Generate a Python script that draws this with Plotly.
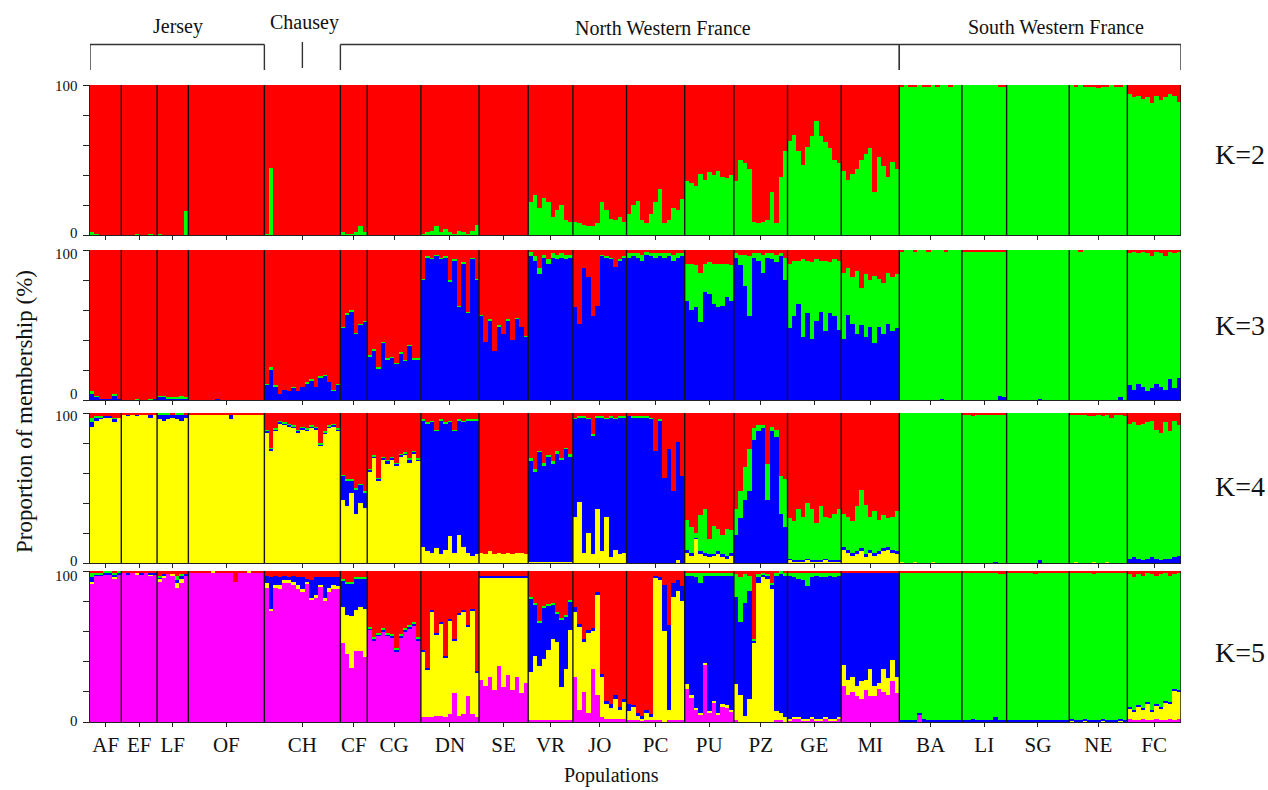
import plotly.graph_objects as go

# ---------------------------------------------------------------------------
# Populations (left to right) and number of individuals sampled in each
# ---------------------------------------------------------------------------
populations = ["AF", "EF", "LF", "OF", "CH", "CF", "CG", "DN", "SE", "VR", "JO",
               "PC", "PU", "PZ", "GE", "MI", "BA", "LI", "SG", "NE", "FC"]
pop_sizes = [7, 8, 7, 17, 17, 6, 12, 13, 11, 10, 12, 13, 11, 12, 12, 13, 14, 10, 14, 13, 12]

# Regional groups: (label, first population, last population)
regions = [("Jersey", "AF", "OF"), ("Chausey", "CH", "CH"),
           ("North Western France", "CF", "MI"), ("South Western France", "BA", "FC")]

# ---------------------------------------------------------------------------
# Individual membership proportions (%) per cluster; the red cluster is the
# remainder of each individual's 100 %.
# ---------------------------------------------------------------------------
# K = 2
k2_green = [
    2, 1, 0, 0, 0, 0, 0,                                        # AF
    0, 0, 0, 1, 0, 0, 1, 0,                                     # EF
    1, 0, 0, 0, 0, 0, 16,                                       # LF
    0, 0, 0, 0, 0, 0, 0, 0, 0, 0, 0, 0, 0, 0, 0, 0, 0,          # OF
    1, 45, 0, 0, 0, 0, 0, 0, 0, 0, 0, 0, 0, 0, 0, 0, 0,         # CH
    2, 1, 1, 2, 6, 2,                                           # CF
    0, 0, 0, 0, 0, 0, 0, 0, 0, 0, 0, 0,                         # CG
    1, 2, 3, 6, 2, 4, 2, 1, 3, 2, 1, 3, 7,                      # DN
    0, 0, 0, 0, 0, 0, 0, 0, 0, 0, 0,                            # SE
    22, 27, 18, 25, 22, 12, 17, 20, 10, 9,                      # VR
    9, 8, 7, 6, 6, 8, 22, 17, 11, 10, 12, 9,                    # JO
    14, 20, 23, 10, 8, 14, 22, 31, 8, 10, 18, 17, 24,           # PC
    36, 35, 33, 41, 37, 42, 40, 43, 39, 38, 40,                 # PU
    36, 50, 48, 44, 9, 8, 9, 10, 29, 8, 39, 56,                 # PZ
    63, 67, 56, 47, 59, 66, 76, 66, 62, 58, 50, 48,             # GE
    43, 37, 41, 44, 50, 54, 58, 29, 52, 46, 39, 49, 44,         # MI
    99, 100, 99, 99, 100, 99, 99, 100, 99, 100, 100, 99, 100, 100,  # BA
    100, 100, 100, 100, 100, 100, 100, 100, 99, 99,             # LI
    100, 100, 100, 100, 100, 100, 100, 100, 100, 100, 100, 100, 100, 100,  # SG
    100, 99, 100, 99, 99, 99, 98, 99, 99, 100, 99, 99, 100,     # NE
    94, 92, 93, 91, 92, 88, 93, 90, 92, 94, 93, 89,             # FC
]

# K = 3
k3_blue = [
    4, 2, 1, 1, 1, 3, 1,                                        # AF
    0, 0, 0, 0, 0, 0, 0, 1,                                     # EF
    2, 2, 1, 1, 1, 1, 1,                                        # LF
    0, 0, 0, 0, 0, 0, 1, 0, 0, 0, 0, 0, 0, 0, 0, 0, 0,          # OF
    10, 20, 9, 4, 7, 6, 8, 6, 9, 11, 13, 9, 15, 16, 12, 6, 10,  # CH
    48, 57, 59, 44, 50, 52,                                     # CF
    29, 33, 21, 38, 27, 28, 24, 31, 26, 36, 27, 27,             # CG
    80, 95, 94, 96, 94, 95, 79, 93, 62, 91, 58, 94, 80,         # DN
    56, 39, 53, 33, 49, 44, 53, 40, 54, 49, 42,                 # SE
    96, 93, 84, 95, 91, 95, 94, 95, 94, 95,                     # VR
    62, 51, 88, 82, 56, 63, 96, 95, 94, 89, 93, 95,             # JO
    95, 96, 95, 93, 97, 96, 95, 96, 95, 96, 93, 95, 96,         # PC
    66, 60, 62, 52, 72, 71, 64, 62, 63, 69, 66,                 # PU
    95, 90, 76, 56, 95, 93, 85, 95, 94, 92, 96, 80,             # PZ
    48, 56, 64, 42, 58, 41, 53, 59, 46, 58, 56, 47,             # GE
    41, 57, 51, 44, 50, 42, 49, 38, 49, 44, 51, 46, 48,         # MI
    0, 0, 0, 0, 0, 0, 0, 0, 0, 1, 0, 0, 0, 0,                   # BA
    0, 0, 0, 0, 0, 0, 0, 0, 3, 2,                               # LI
    0, 0, 0, 0, 0, 0, 0, 1, 0, 0, 0, 0, 0, 0,                   # SG
    0, 0, 0, 0, 0, 0, 0, 0, 0, 0, 0, 2, 0,                      # NE
    10, 7, 11, 9, 6, 8, 11, 9, 7, 14, 8, 15,                    # FC
]
k3_green = [
    2, 1, 0, 0, 0, 1, 0,                                        # AF
    0, 0, 0, 1, 0, 0, 1, 0,                                     # EF
    1, 1, 1, 1, 1, 2, 1,                                        # LF
    0, 0, 0, 0, 0, 0, 0, 0, 0, 0, 0, 0, 0, 0, 0, 0, 0,          # OF
    1, 2, 1, 0, 0, 0, 1, 0, 0, 1, 1, 0, 1, 1, 0, 1, 1,          # CH
    1, 1, 1, 1, 1, 1,                                           # CF
    1, 1, 1, 1, 1, 1, 1, 1, 1, 1, 1, 1,                         # CG
    1, 1, 1, 1, 1, 1, 1, 1, 1, 1, 1, 1, 1,                      # DN
    1, 0, 1, 0, 1, 0, 1, 0, 1, 0, 1,                            # SE
    3, 3, 4, 2, 3, 3, 3, 3, 3, 2,                               # VR
    0, 0, 0, 0, 0, 0, 1, 1, 1, 0, 1, 1,                         # JO
    3, 2, 3, 4, 2, 2, 3, 2, 3, 2, 4, 3, 2,                      # PC
    25, 31, 28, 33, 19, 21, 27, 29, 28, 22, 24,                 # PU
    3, 7, 21, 40, 3, 5, 12, 3, 4, 5, 2, 15,                     # PZ
    43, 37, 29, 52, 35, 51, 41, 34, 47, 34, 38, 46,             # GE
    44, 31, 31, 42, 25, 42, 31, 45, 32, 34, 34, 36, 36,         # MI
    99, 100, 100, 99, 100, 100, 99, 100, 100, 99, 99, 100, 100, 100,  # BA
    99, 99, 99, 99, 99, 99, 99, 99, 96, 97,                     # LI
    100, 100, 100, 100, 100, 100, 100, 99, 100, 100, 100, 100, 100, 100,  # SG
    100, 100, 99, 100, 100, 100, 100, 100, 100, 100, 100, 98, 100,  # NE
    88, 92, 87, 90, 92, 88, 88, 89, 89, 85, 90, 84,             # FC
]

# K = 4
k4_yellow = [
    91, 95, 96, 97, 97, 94, 97,                                 # AF
    99, 98, 99, 98, 99, 99, 97, 99,                             # EF
    96, 95, 96, 97, 96, 95, 97,                                 # LF
    99, 99, 99, 99, 99, 99, 99, 99, 99, 96, 99, 99, 99, 99, 99, 99, 99,  # OF
    87, 75, 88, 93, 92, 91, 90, 87, 89, 88, 90, 89, 78, 86, 90, 91, 88,  # CH
    42, 38, 47, 33, 40, 37,                                     # CF
    61, 70, 55, 69, 66, 69, 65, 71, 72, 67, 73, 68,             # CG
    11, 8, 7, 10, 6, 9, 18, 7, 19, 11, 7, 5, 6,                 # DN
    7, 6, 8, 6, 7, 6, 7, 6, 7, 7, 6,                            # SE
    1, 1, 1, 1, 1, 1, 1, 1, 1, 1,                               # VR
    31, 41, 7, 20, 6, 36, 8, 31, 4, 9, 6, 7,                    # JO
    0, 0, 0, 0, 0, 0, 0, 0, 0, 0, 0, 2, 0,                      # PC
    7, 5, 16, 6, 5, 4, 5, 6, 4, 3, 5,                           # PU
    0, 0, 0, 0, 0, 0, 0, 0, 0, 0, 0, 0,                         # PZ
    2, 1, 1, 1, 2, 1, 1, 1, 2, 1, 1, 1,                         # GE
    9, 7, 5, 6, 8, 4, 7, 5, 6, 8, 9, 7, 6,                      # MI
    1, 0, 0, 1, 0, 0, 0, 1, 0, 0, 0, 0, 0, 0,                   # BA
    0, 0, 0, 0, 0, 0, 0, 0, 0, 0,                               # LI
    0, 0, 0, 0, 0, 0, 0, 0, 0, 0, 0, 0, 0, 0,                   # SG
    0, 1, 0, 0, 0, 1, 0, 0, 1, 0, 0, 0, 0,                      # NE
    0, 0, 0, 0, 0, 0, 0, 0, 0, 0, 0, 0,                         # FC
]
k4_blue = [
    3, 2, 1, 1, 1, 2, 0,                                        # AF
    0, 1, 0, 1, 0, 0, 2, 0,                                     # EF
    3, 4, 3, 2, 3, 4, 2,                                        # LF
    0, 0, 0, 0, 0, 0, 0, 0, 0, 3, 0, 0, 0, 0, 0, 0, 0,          # OF
    1, 1, 1, 1, 1, 1, 1, 1, 1, 1, 1, 1, 1, 1, 1, 1, 1,          # CH
    16, 17, 8, 16, 12, 10,                                      # CF
    1, 1, 1, 1, 2, 1, 1, 1, 1, 2, 1, 1,                         # CG
    84, 85, 87, 78, 89, 84, 76, 81, 76, 83, 88, 90, 89,         # DN
    0, 0, 0, 0, 0, 0, 0, 0, 0, 0, 0,                            # SE
    67, 60, 73, 64, 70, 65, 72, 68, 75, 70,                     # VR
    65, 56, 90, 76, 79, 61, 89, 65, 93, 87, 91, 90,             # JO
    98, 97, 97, 97, 97, 96, 75, 95, 57, 76, 48, 79, 58,         # PC
    2, 2, 1, 2, 2, 2, 1, 2, 2, 2, 2,                            # PU
    19, 30, 42, 48, 82, 88, 90, 42, 88, 84, 33, 24,             # PZ
    1, 1, 1, 1, 1, 1, 1, 1, 1, 1, 1, 1,                         # GE
    2, 2, 2, 2, 2, 2, 2, 2, 2, 2, 2, 2, 2,                      # MI
    0, 0, 0, 0, 0, 0, 0, 0, 0, 0, 0, 0, 0, 0,                   # BA
    0, 0, 0, 0, 0, 0, 0, 1, 0, 0,                               # LI
    0, 0, 0, 0, 0, 0, 0, 2, 0, 0, 0, 0, 0, 0,                   # SG
    0, 0, 0, 0, 0, 0, 0, 0, 0, 0, 0, 0, 0,                      # NE
    3, 4, 3, 2, 3, 4, 3, 2, 3, 3, 4, 5,                         # FC
]
k4_green = [
    3, 1, 1, 0, 0, 1, 0,                                        # AF
    0, 0, 0, 0, 0, 0, 0, 0,                                     # EF
    1, 1, 1, 0, 1, 1, 0,                                        # LF
    0, 0, 0, 0, 0, 0, 0, 0, 0, 0, 0, 0, 0, 0, 0, 0, 0,          # OF
    1, 1, 1, 1, 1, 1, 1, 1, 1, 1, 1, 1, 1, 1, 1, 1, 1,          # CH
    1, 1, 1, 1, 1, 1,                                           # CF
    1, 1, 1, 1, 1, 1, 1, 1, 1, 1, 1, 1,                         # CG
    1, 1, 1, 1, 1, 1, 1, 1, 1, 1, 1, 1, 1,                      # DN
    0, 0, 0, 0, 0, 0, 0, 0, 0, 0, 0,                            # SE
    2, 2, 1, 2, 1, 2, 2, 1, 1, 2,                               # VR
    1, 1, 1, 1, 1, 1, 1, 1, 1, 1, 1, 1,                         # JO
    0, 1, 1, 1, 1, 1, 0, 1, 0, 0, 0, 0, 0,                      # PC
    20, 17, 3, 24, 29, 10, 19, 15, 13, 18, 15,                  # PU
    17, 18, 22, 28, 8, 4, 2, 24, 3, 5, 25, 32,                  # PZ
    27, 26, 34, 29, 37, 34, 25, 36, 28, 28, 31, 34,             # GE
    22, 22, 21, 30, 39, 33, 22, 28, 21, 22, 19, 22, 27,         # MI
    99, 100, 100, 99, 100, 100, 100, 99, 100, 100, 100, 100, 100, 100,  # BA
    99, 99, 98, 99, 99, 99, 99, 98, 99, 99,                     # LI
    100, 100, 100, 100, 100, 100, 100, 98, 100, 100, 100, 100, 100, 100,  # SG
    99, 98, 99, 99, 98, 97, 99, 98, 98, 97, 99, 99, 98,         # NE
    90, 90, 89, 91, 91, 91, 86, 85, 91, 85, 91, 87,             # FC
]

# K = 5
k5_magenta = [
    92, 97, 97, 98, 98, 95, 98,                                 # AF
    99, 98, 99, 98, 98, 99, 97, 98,                             # EF
    93, 96, 98, 97, 89, 92, 97,                                 # LF
    99, 99, 99, 99, 99, 99, 99, 99, 99, 99, 93, 99, 99, 99, 99, 99, 99,  # OF
    89, 74, 89, 88, 92, 92, 91, 88, 86, 92, 81, 82, 90, 80, 86, 88, 88,  # CH
    52, 45, 36, 47, 47, 43,                                     # CF
    61, 54, 57, 60, 57, 56, 47, 56, 60, 62, 64, 54,             # CG
    3, 3, 3, 4, 4, 3, 5, 19, 4, 5, 17, 5, 3,                    # DN
    28, 24, 30, 21, 37, 23, 31, 21, 30, 19, 26,                 # SE
    1, 1, 1, 1, 1, 1, 1, 1, 1, 1,                               # VR
    30, 8, 20, 6, 35, 18, 3, 2, 2, 2, 2, 2,                     # JO
    1, 1, 1, 1, 1, 1, 1, 1, 0, 1, 1, 1, 1,                      # PC
    22, 16, 8, 5, 38, 6, 13, 5, 10, 9, 7,                       # PU
    1, 0, 0, 0, 0, 0, 0, 0, 0, 1, 1, 0,                         # PZ
    1, 2, 2, 1, 1, 2, 1, 1, 2, 1, 1, 2,                         # GE
    24, 18, 20, 17, 15, 21, 17, 17, 22, 20, 18, 27, 19,         # MI
    0, 0, 0, 0, 5, 0, 0, 0, 0, 0, 0, 0, 0, 0,                   # BA
    0, 0, 0, 0, 0, 0, 0, 0, 0, 0,                               # LI
    0, 0, 0, 0, 0, 0, 0, 0, 0, 0, 0, 0, 0, 0,                   # SG
    0, 0, 0, 0, 0, 0, 0, 0, 0, 0, 0, 0, 0,                      # NE
    2, 1, 1, 2, 1, 1, 2, 1, 1, 2, 1, 2,                         # FC
]
k5_yellow = [
    1, 0, 0, 0, 0, 1, 0,                                        # AF
    0, 0, 0, 1, 0, 0, 1, 0,                                     # EF
    2, 1, 0, 1, 3, 3, 0,                                        # LF
    0, 0, 0, 0, 0, 1, 0, 0, 0, 0, 0, 0, 0, 1, 0, 0, 0,          # OF
    3, 1, 2, 3, 2, 2, 2, 3, 2, 1, 1, 2, 1, 2, 3, 3, 2,          # CH
    24, 26, 34, 27, 29, 32,                                     # CF
    0, 0, 0, 0, 0, 0, 0, 0, 0, 0, 0, 0,                         # CG
    44, 32, 70, 54, 61, 40, 62, 35, 67, 68, 46, 69, 30,         # DN
    68, 72, 66, 75, 59, 73, 65, 75, 66, 77, 70,                 # SE
    32, 43, 36, 41, 47, 54, 52, 22, 34, 60,                     # VR
    43, 55, 33, 53, 25, 66, 27, 10, 7, 13, 6, 11,               # JO
    6, 9, 3, 1, 5, 2, 95, 93, 60, 7, 82, 86, 79,                # PC
    3, 2, 1, 1, 1, 1, 1, 1, 2, 2, 1,                            # PU
    24, 18, 4, 15, 52, 92, 96, 95, 88, 6, 5, 3,                 # PZ
    1, 1, 1, 1, 1, 1, 1, 1, 1, 1, 1, 1,                         # GE
    14, 10, 10, 7, 12, 7, 18, 7, 4, 15, 11, 14, 11,             # MI
    0, 0, 0, 0, 0, 0, 0, 0, 0, 0, 0, 0, 0, 0,                   # BA
    0, 0, 0, 0, 0, 0, 0, 0, 0, 0,                               # LI
    0, 0, 0, 0, 0, 0, 0, 0, 0, 0, 0, 0, 0, 0,                   # SG
    1, 0, 0, 1, 0, 0, 0, 1, 0, 0, 0, 1, 0,                      # NE
    7, 6, 9, 6, 11, 6, 9, 8, 12, 10, 20, 18,                    # FC
]
k5_blue = [
    3, 1, 1, 1, 1, 2, 1,                                        # AF
    0, 1, 0, 0, 1, 0, 1, 1,                                     # EF
    1, 1, 0, 0, 2, 2, 1,                                        # LF
    0, 0, 0, 0, 0, 0, 0, 0, 0, 0, 0, 0, 0, 0, 0, 0, 0,          # OF
    5, 21, 6, 5, 3, 2, 4, 5, 8, 2, 12, 12, 5, 14, 7, 5, 6,      # CH
    18, 21, 22, 21, 19, 20,                                     # CF
    1, 1, 1, 1, 1, 1, 1, 1, 1, 1, 1, 1,                         # CG
    1, 1, 1, 1, 1, 1, 1, 1, 1, 1, 1, 1, 1,                      # DN
    1, 1, 1, 1, 1, 1, 1, 1, 1, 1, 1,                            # SE
    49, 34, 29, 34, 29, 23, 19, 45, 35, 19,                     # VR
    3, 2, 2, 2, 2, 2, 2, 2, 3, 3, 2, 2,                         # JO
    5, 1, 2, 2, 2, 2, 1, 2, 31, 56, 9, 7, 10,                   # PC
    72, 79, 87, 86, 58, 90, 83, 91, 85, 86, 89,                 # PU
    58, 48, 75, 72, 2, 4, 2, 2, 3, 90, 92, 94,                  # PZ
    95, 93, 92, 92, 88, 93, 95, 94, 93, 95, 94, 94,             # GE
    61, 71, 69, 75, 72, 71, 64, 75, 73, 64, 70, 58, 69,         # MI
    1, 1, 1, 1, 1, 2, 1, 1, 1, 1, 1, 1, 1, 1,                   # BA
    1, 1, 2, 1, 1, 1, 1, 3, 1, 1,                               # LI
    1, 1, 1, 1, 1, 1, 1, 1, 1, 1, 1, 1, 1, 1,                   # SG
    1, 1, 1, 1, 1, 1, 1, 1, 1, 1, 1, 1, 1,                      # NE
    1, 1, 1, 1, 1, 1, 1, 1, 1, 1, 1, 1,                         # FC
]
k5_green = [
    3, 1, 1, 1, 1, 1, 1,                                        # AF
    0, 0, 0, 0, 0, 0, 0, 0,                                     # EF
    1, 0, 0, 0, 3, 1, 0,                                        # LF
    0, 0, 0, 0, 0, 0, 0, 0, 0, 0, 0, 0, 0, 0, 0, 0, 0,          # OF
    0, 0, 0, 0, 0, 0, 0, 0, 0, 0, 0, 0, 0, 0, 0, 0, 0,          # CH
    1, 1, 1, 1, 1, 1,                                           # CF
    1, 1, 1, 1, 1, 1, 1, 1, 1, 1, 1, 1,                         # CG
    0, 0, 0, 0, 0, 0, 0, 0, 0, 0, 0, 0, 0,                      # DN
    0, 0, 0, 0, 0, 0, 0, 0, 0, 0, 0,                            # SE
    1, 1, 1, 1, 1, 1, 1, 1, 1, 1,                               # VR
    0, 0, 0, 0, 0, 0, 0, 0, 0, 0, 0, 0,                         # JO
    0, 0, 0, 0, 0, 0, 0, 0, 0, 0, 0, 0, 0,                      # PC
    2, 2, 3, 7, 2, 2, 2, 2, 2, 2, 2,                            # PU
    15, 30, 19, 10, 1, 2, 1, 1, 1, 2, 2, 2,                     # PZ
    2, 3, 4, 5, 9, 3, 2, 3, 3, 2, 3, 2,                         # GE
    0, 0, 0, 0, 0, 0, 0, 0, 0, 0, 0, 0, 0,                      # MI
    98, 98, 98, 98, 93, 97, 98, 98, 98, 98, 98, 98, 98, 98,     # BA
    98, 98, 97, 98, 98, 98, 98, 96, 97, 97,                     # LI
    98, 98, 98, 98, 98, 98, 97, 98, 98, 98, 98, 98, 98, 98,     # SG
    97, 98, 98, 97, 98, 97, 98, 97, 98, 98, 98, 97, 98,         # NE
    88, 88, 87, 88, 86, 90, 85, 88, 85, 84, 76, 78,             # FC
]

# ---------------------------------------------------------------------------
RED, GREEN, BLUE, YELLOW, MAGENTA = "#FF0000", "#00FF00", "#0000FF", "#FFFF00", "#FF00FF"

panels = [
    ("K=2", [(k2_green, GREEN)]),
    ("K=3", [(k3_blue, BLUE), (k3_green, GREEN)]),
    ("K=4", [(k4_yellow, YELLOW), (k4_blue, BLUE), (k4_green, GREEN)]),
    ("K=5", [(k5_magenta, MAGENTA), (k5_yellow, YELLOW), (k5_blue, BLUE), (k5_green, GREEN)]),
]

n_ind = sum(pop_sizes)
edges = [0]
for s in pop_sizes:
    edges.append(edges[-1] + s)
pop_centers = [(edges[i] + edges[i + 1]) / 2 for i in range(len(pop_sizes))]
x_ind = [i + 0.5 for i in range(n_ind)]

W, H = 1268, 790
def px(x):
    return x / W
def py(y):
    return 1 - y / H

# panel frames in pixels: (top, bottom)
panel_px = [(85, 235), (250, 400), (413, 563), (571, 722)]
x_domain = [px(90), px(1181)]
k_label_y = [155, 325, 487, 652]
# vertical nudges (px) of the "100" / "0" labels inside each frame
label_in = [(1, 2), (4, 6), (3, 2), (5, 1)]

SERIF = "Liberation Serif, Times New Roman, DejaVu Serif, serif"
TXT = "#111"
fig = go.Figure()
shapes = []
annotations = []

def text(s, x, y, size, **kw):
    d = dict(text=s, x=px(x), y=py(y), xref="paper", yref="paper",
             showarrow=False, xanchor="center", yanchor="middle",
             font=dict(family=SERIF, size=size, color=TXT))
    d.update(kw)
    annotations.append(d)

for p, (k_label, comps) in enumerate(panels):
    sfx = "" if p == 0 else str(p + 1)
    for vals, _ in comps:
        assert len(vals) == n_ind, (k_label, len(vals))
    red = [max(0, 100 - sum(c[0][i] for c in comps)) for i in range(n_ind)]
    for vals, col in comps + [(red, RED)]:
        fig.add_trace(go.Bar(
            x=x_ind, y=vals, width=1, xaxis="x" + sfx, yaxis="y" + sfx,
            marker=dict(color=col, line=dict(width=0)),
            showlegend=False, hoverinfo="skip"))

    top, bot = panel_px[p]
    last = p == len(panels) - 1
    fig.layout["xaxis" + sfx] = dict(
        domain=x_domain, range=[0, n_ind], anchor="y" + sfx,
        showline=True, linecolor="#222", linewidth=1, mirror=False,
        ticks="outside", ticklen=4, tickcolor="#222",
        tickvals=pop_centers, ticktext=populations if last else [""] * len(populations),
        showticklabels=last, tickfont=dict(family=SERIF, size=21, color=TXT),
        showgrid=False, zeroline=False, automargin=False, fixedrange=True)
    fig.layout["yaxis" + sfx] = dict(
        domain=[py(bot), py(top)], range=[0, 100], anchor="x" + sfx,
        showline=True, linecolor="#222", linewidth=1,
        ticks="outside", ticklen=6, tickcolor="#222",
        tickvals=[0, 20, 40, 60, 80, 100], showticklabels=False,
        showgrid=False, zeroline=False, automargin=False, fixedrange=True)

    # "100" and "0" labels, kept clear of the neighbouring panels
    text("100", 80, top + label_in[p][0], 15, xanchor="right")
    text("0", 80, bot - label_in[p][1], 15, xanchor="right")

    # population separators
    for e in edges[1:]:
        shapes.append(dict(type="line", xref="x" + sfx, yref="y" + sfx,
                           x0=e, x1=e, y0=0, y1=100,
                           line=dict(color="#151515", width=1.4)))

    text(k_label, 1240, k_label_y[p], 28)

# regional brackets above the first panel
label_x = {"Jersey": 178, "Chausey": 304, "North Western France": 663,
           "South Western France": 1056}
label_y = {"Jersey": 27, "Chausey": 22, "North Western France": 28,
           "South Western France": 27}
bracket_col = dict(color="#333", width=1.4)
for name, first, last_pop in regions:
    i0, i1 = populations.index(first), populations.index(last_pop)
    if i0 == i1:
        xc = pop_centers[i0]
        shapes.append(dict(type="line", xref="x", yref="paper", x0=xc, x1=xc,
                           y0=py(42), y1=py(68), line=bracket_col))
    else:
        a, b = edges[i0], edges[i1 + 1]
        shapes.append(dict(type="line", xref="x", yref="paper", x0=a, x1=b,
                           y0=py(44.5), y1=py(44.5), line=bracket_col))
        for xv in (a, b):
            shapes.append(dict(type="line", xref="x", yref="paper", x0=xv, x1=xv,
                               y0=py(44.5), y1=py(70), line=bracket_col))
    text(name, label_x[name], label_y[name], 20)

text("Proportion of membership (%)", 24, 412, 23, textangle=-90)
text("Populations", 611, 775, 20)

fig.update_layout(
    width=W, height=H, margin=dict(l=0, r=0, t=0, b=0),
    paper_bgcolor="white", plot_bgcolor="white",
    barmode="stack", bargap=0, showlegend=False,
    shapes=shapes, annotations=annotations,
    font=dict(family=SERIF, color=TXT))

fig.write_html("out.html")
